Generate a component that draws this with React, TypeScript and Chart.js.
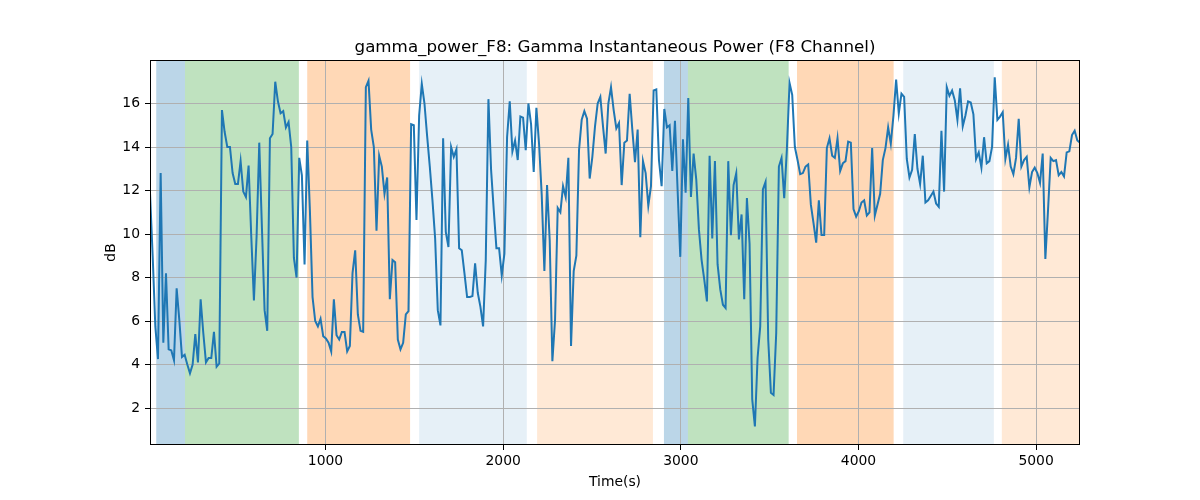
import { useEffect, useRef } from "react";
import { Chart, registerables } from "chart.js";

Chart.register(...registerables);

// gamma power samples, one every 15 s starting at 12 s
const sampleStart = 12;
const sampleStep = 15;
const powerDb = [
  11.9, 9.0, 5.75, 4.25, 12.8, 5.0, 8.2, 4.7, 4.65, 4.2,
  7.5, 6.05, 4.35, 4.45, 4.0, 3.6, 4.0, 5.4, 4.1, 7.0,
  5.45, 4.1, 4.3, 4.3, 5.5, 3.9, 4.05, 15.7, 14.7, 14.0,
  14.0, 12.8, 12.3, 12.3, 13.35, 11.95, 11.7, 13.15, 9.9, 6.95,
  9.9, 14.2, 10.3, 6.5, 5.55, 14.4, 14.6, 17.0, 16.1, 15.55,
  15.65, 14.9, 15.15, 14.0, 8.9, 8.0, 13.5, 12.7, 8.6, 14.3,
  11.1, 7.1, 6.0, 5.75, 6.1, 5.3, 5.2, 5.0, 4.6, 7.0,
  5.35, 5.15, 5.5, 5.5, 4.6, 4.85, 8.2, 9.25, 6.3, 5.55,
  5.5, 16.75, 17.05, 14.8, 14.0, 10.15, 13.6, 13.1, 11.85, 12.6,
  7.0, 8.8, 8.7, 5.15, 4.7, 5.0, 6.3, 6.45, 15.05, 15.0,
  10.65, 15.45, 16.9, 16.0, 14.5, 13.1, 11.55, 9.8, 6.5, 5.8,
  14.4, 10.1, 9.4, 14.0, 13.55, 13.9, 9.35, 9.25, 8.2, 7.1,
  7.1, 7.15, 8.65, 7.3, 6.65, 5.75, 8.8, 16.2, 12.95, 11.1,
  9.35, 9.35, 8.1, 9.1, 14.45, 16.1, 13.8, 14.3, 13.4, 15.4,
  15.35, 13.85, 16.0, 15.05, 12.85, 15.8, 14.15, 11.8, 8.3, 12.25,
  9.7, 4.15, 6.05, 11.2, 11.0, 12.2, 11.7, 13.5, 4.85, 8.3,
  9.0, 13.85, 15.25, 15.65, 15.3, 12.55, 13.55, 14.95, 16.0, 16.3,
  14.95, 13.7, 16.0, 16.75, 15.7, 14.85, 15.1, 12.25, 14.2, 14.3,
  16.45, 14.8, 13.3, 14.8, 9.85, 13.35, 12.8, 11.3, 12.2, 16.6,
  16.65, 13.4, 12.2, 15.75, 14.9, 15.0, 12.9, 15.2, 12.0, 8.95,
  14.35, 11.9, 16.25, 11.7, 13.7, 12.5, 10.2, 8.8, 7.9, 6.9,
  13.6, 9.8, 13.35, 8.6, 7.45, 6.75, 6.6, 13.35, 9.95, 12.25,
  12.8, 9.75, 10.9, 7.0, 11.65, 9.55, 2.4, 1.15, 4.3, 5.75,
  12.05, 12.4, 5.15, 2.7, 2.6, 5.45, 13.1, 13.5, 11.65, 13.9,
  16.95, 16.4, 14.0, 13.4, 12.75, 12.8, 13.1, 13.2, 11.35, 10.5,
  9.6, 11.55, 9.95, 9.95, 13.95, 14.4, 13.6, 13.5, 14.4, 12.9,
  13.25, 13.35, 14.25, 14.2, 11.15, 10.8, 11.05, 11.45, 11.55, 10.85,
  11.0, 13.95, 10.85, 11.35, 11.85, 13.4, 13.95, 14.9, 14.15, 15.45,
  17.1, 15.55, 16.45, 16.3, 13.45, 12.6, 12.95, 14.6, 13.0, 12.3,
  13.6, 11.45, 11.55, 11.75, 11.95, 11.4, 11.25, 14.75, 11.95, 16.75,
  16.35, 16.6, 16.15, 15.25, 16.7, 14.95, 15.45, 16.1, 16.05, 15.5,
  13.45, 13.75, 13.05, 14.45, 13.25, 13.35, 14.0, 17.2, 15.25, 15.4,
  15.6, 13.45, 14.1, 13.1, 12.75, 13.5, 15.3, 13.1, 13.4, 13.55,
  12.15, 12.85, 13.05, 12.8, 12.35, 13.7, 8.85, 11.1, 13.5, 13.35,
  13.4, 12.7, 12.85, 12.65, 13.75, 13.8, 14.55, 14.75, 14.3, 14.2,
];
const timeSec = powerDb.map((_, i) => sampleStart + i * sampleStep);

// shaded segments (seconds)
const bandStart = [47, 209, 897, 1527, 2191, 2905, 3040, 3654, 4252, 4807];
const bandEnd = [209, 850, 1476, 2133, 2843, 3040, 3607, 4198, 4762, 5247];
const bandKind = ["a", "b", "c", "d", "e", "a", "b", "c", "d", "e"];

const xTicks = [1000, 2000, 3000, 4000, 5000];
const yTicks = [2, 4, 6, 8, 10, 12, 14, 16];

const bandColors: Record<string, string> = {
  a: "rgba(31,119,180,0.3)",
  b: "rgba(44,160,44,0.3)",
  c: "rgba(255,127,14,0.3)",
  d: "rgba(31,119,180,0.11)",
  e: "rgba(255,127,14,0.17)",
};

const FONT = "DejaVu Sans";

// bands go under the grid, so draw them before the scales
const bandsPlugin = {
  id: "bands",
  beforeDraw(chart: any) {
    const { ctx, chartArea, scales } = chart;
    ctx.save();
    ctx.beginPath();
    ctx.rect(chartArea.left, chartArea.top, chartArea.right - chartArea.left, chartArea.bottom - chartArea.top);
    ctx.clip();
    bandStart.forEach((s, i) => {
      const x1 = scales.x.getPixelForValue(s);
      const x2 = scales.x.getPixelForValue(bandEnd[i]);
      ctx.fillStyle = bandColors[bandKind[i]];
      ctx.fillRect(x1, chartArea.top, x2 - x1, chartArea.bottom - chartArea.top);
    });
    ctx.restore();
  },
};

const framePlugin = {
  id: "frame",
  afterDraw(chart: any) {
    const { ctx, chartArea } = chart;
    ctx.save();
    ctx.strokeStyle = "#000";
    ctx.lineWidth = 1;
    ctx.strokeRect(
      Math.round(chartArea.left) + 0.5,
      Math.round(chartArea.top) + 0.5,
      Math.round(chartArea.right - chartArea.left) - 1,
      Math.round(chartArea.bottom - chartArea.top) - 1
    );
    ctx.fillStyle = "#000";
    ctx.textAlign = "center";
    ctx.textBaseline = "alphabetic";
    const cx = (chartArea.left + chartArea.right) / 2;
    ctx.font = `16.7px '${FONT}'`;
    ctx.fillText("gamma_power_F8: Gamma Instantaneous Power (F8 Channel)", cx, 52);
    ctx.font = `13.9px '${FONT}'`;
    ctx.fillText("Time(s)", cx, 486);
    ctx.translate(115, (chartArea.top + chartArea.bottom) / 2);
    ctx.rotate(-Math.PI / 2);
    ctx.fillText("dB", 0, 0);
    ctx.restore();
  },
};

export default function App() {
  const canvasRef = useRef<HTMLCanvasElement>(null);

  useEffect(() => {
    document.body.style.margin = "0";
    if (!canvasRef.current) return;
    const ctx = canvasRef.current.getContext("2d");
    if (!ctx) return;

    const chart = new Chart(ctx, {
      type: "line",
      data: {
        datasets: [
          {
            data: timeSec.map((t, i) => ({ x: t, y: powerDb[i] })),
            borderColor: "#1f77b4",
            borderWidth: 2,
            pointRadius: 0,
            tension: 0,
          },
        ],
      },
      options: {
        animation: false,
        responsive: true,
        maintainAspectRatio: false,
        layout: { padding: { top: 60, right: 120, left: 0, bottom: 0 } },
        plugins: { legend: { display: false }, title: { display: false }, tooltip: { enabled: false } },
        scales: {
          x: {
            type: "linear",
            min: 12,
            max: 5247,
            afterBuildTicks: (scale: any) => {
              scale.ticks = xTicks.map((v) => ({ value: v }));
            },
            afterFit: (scale: any) => {
              scale.height = 55;
            },
            grid: { color: "#b0b0b0", lineWidth: 1, tickColor: "#000", tickLength: 5, drawTicks: true },
            border: { display: false },
            ticks: { color: "#000", font: { family: FONT, size: 13.9 }, padding: 3, maxRotation: 0, callback: (v: any) => String(v) },
          },
          y: {
            min: 0.3,
            max: 18.0,
            afterBuildTicks: (scale: any) => {
              scale.ticks = yTicks.map((v) => ({ value: v }));
            },
            afterFit: (scale: any) => {
              scale.width = 150;
            },
            grid: { color: "#b0b0b0", lineWidth: 1, tickColor: "#000", tickLength: 5, drawTicks: true },
            border: { display: false },
            ticks: { color: "#000", font: { family: FONT, size: 13.9 }, padding: 5, callback: (v: any) => String(v) },
          },
        },
      },
      plugins: [bandsPlugin, framePlugin],
    });

    return () => {
      chart.destroy();
    };
  }, []);

  return (
    <div style={{ width: 1200, height: 500 }}>
      <canvas ref={canvasRef} />
    </div>
  );
}
